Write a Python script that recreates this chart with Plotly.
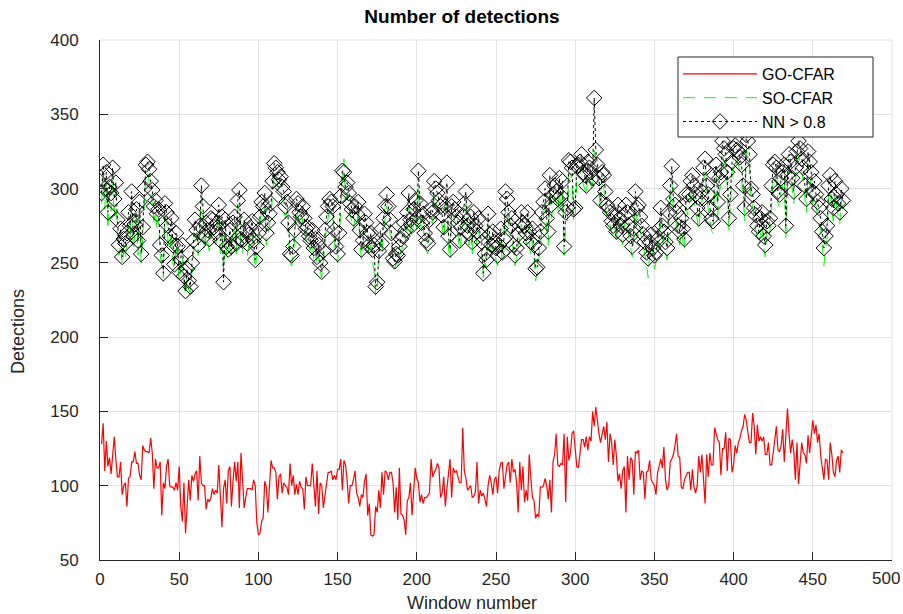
import plotly.graph_objects as go

# ---------------- data ----------------
go_cfar = [128,142,110,130,113,119,108,124,133,118,106,106,116,94,100,102,86,105,106,116,116,123,115,115,107,104,127,124,123,123,122,132,122,98,118,112,112,116,80,102,98,113,118,100,99,99,97,102,97,113,86,76,102,68,90,104,90,107,103,108,110,90,120,102,100,100,84,91,89,92,98,94,97,95,114,90,72,98,104,88,110,113,86,104,116,103,116,85,122,104,85,92,98,98,98,97,104,100,75,67,68,76,78,103,99,82,99,117,112,112,109,91,106,108,95,102,100,99,94,115,100,107,94,101,94,103,99,98,84,106,100,100,100,115,100,86,110,81,102,100,85,94,99,109,109,110,104,107,104,111,111,118,97,117,114,104,88,100,
           100,104,110,95,92,86,94,92,103,108,80,88,67,66,67,86,82,97,85,109,94,110,109,104,109,109,102,82,99,77,112,81,80,77,67,90,92,102,80,100,112,105,102,89,94,88,92,92,94,95,118,106,109,111,115,112,92,95,106,86,98,109,118,92,112,109,110,106,102,102,139,110,105,97,99,100,92,93,96,116,88,97,93,95,91,86,100,107,102,94,104,106,95,110,115,116,98,108,114,116,102,118,109,111,102,82,116,97,113,89,97,90,121,105,92,90,78,81,79,99,99,100,105,100,91,104,82,116,121,135,114,113,115,114,135,89,133,117,122,135,137,125,113,112,122,131,131,126,133,124,133,130,150,140,153,143,135,129,136,140,131,143,116,135,
           129,114,131,120,103,108,98,110,113,82,120,104,119,117,94,123,122,124,104,110,109,91,109,110,117,104,102,100,94,109,113,118,112,126,104,97,100,116,118,121,127,135,120,119,99,98,104,107,109,109,97,111,99,95,100,120,109,121,107,88,121,106,122,114,114,139,135,131,129,107,125,125,136,110,132,131,109,114,127,122,129,132,137,140,148,144,136,129,129,149,140,121,141,130,133,130,133,121,121,129,114,114,122,130,140,124,123,127,138,116,133,152,135,122,131,123,104,129,101,118,129,122,121,115,134,122,133,144,135,141,129,135,120,113,104,118,117,104,129,121,109,106,117,120,109,124,122]

so_cfar = [290,310,286,305,272,296,285,308,280,298,
           268,255,262,248,258,252,265,275,268,290,
           258,270,280,255,283,250,266,292,310,312,
           305,298,290,278,285,272,280,255,246,240,
           282,276,265,258,272,250,245,262,252,238,
           245,255,236,228,240,232,230,244,258,270,
           265,255,268,295,280,258,270,265,258,272,
           270,266,262,268,282,256,273,245,270,254,
           252,265,255,268,275,256,286,290,258,256,
           270,265,255,262,265,270,258,246,255,262,
           274,285,280,288,262,270,275,282,298,310,
           308,303,298,300,292,290,280,284,268,250,
           248,255,265,286,282,275,272,280,272,265,
           266,260,258,265,252,258,248,255,245,240,
           250,265,274,280,286,283,280,264,254,250,
           262,288,305,320,293,296,290,282,278,272,
           280,276,283,264,252,258,275,270,262,255,
           262,250,245,228,232,252,265,256,272,280,
           288,280,270,262,247,246,250,248,254,258,
           260,270,265,276,288,270,268,278,284,272,
           300,282,270,275,262,258,256,270,278,276,
           296,292,288,284,280,275,266,280,295,260,
           252,280,283,278,272,268,258,266,275,282,290,268,262,272,256,
           276,268,262,272,262,
           256,240,250,246,275,262,255,
           262,256,252,248,255,265,250,258,290,285,276,
           268,272,255,248,253,262,266,276,270,268,262,
           276,262,256,265,255,238,242,252,262,276,282,
           292,272,262,300,280,288,294,290,284,298,286,
           296,255,276,278,310,310,306,278,280,306,308,
           310,315,303,300,295,310,306,303,298,328,318,
           308,298,286,303,300,290,280,278,276,270,
           268,274,263,280,272,266,262,274,280,276,266,
           260,254,265,288,279,280,272,266,262,256,
           250,240,256,262,252,246,250,258,265,278,266,
           262,256,252,275,292,305,285,280,276,266,
           262,272,265,258,288,282,288,296,300,293,
           288,278,272,285,290,305,312,294,287,278,272,
           270,300,308,282,298,302,322,318,315,302,
           272,288,310,318,320,318,316,312,308,294,
           278,326,322,314,292,288,278,272,266,262,270,
           275,260,254,270,266,272,294,306,310,305,290,
           288,298,302,308,266,300,314,310,298,290,
           305,316,322,318,312,305,294,284,316,310,302,
           290,296,288,282,278,272,262,248,260,266,294,
           300,285,278,296,288,282,276,292,285]

nn = [297,316,300,311,284,301,297,314,293,304,
      279,262,273,254,266,263,270,284,275,298,
      268,276,286,265,291,256,274,300,316,318,
      313,305,299,288,292,283,286,262,255,243,
      290,284,275,268,280,262,249,270,261,244,
      252,262,241,231,246,238,234,250,265,279,
      272,262,275,302,288,268,277,272,266,280,
      279,274,270,277,289,265,281,237,279,261,
      259,272,261,277,281,263,292,299,266,265,
      279,272,263,269,274,278,265,252,261,270,
      281,291,288,297,270,277,283,290,305,317,
      314,311,306,308,301,298,288,291,277,256,
      255,261,272,293,290,284,281,288,280,273,
      274,268,265,272,260,266,254,262,250,244,
      258,272,281,288,293,291,288,272,261,256,
      270,295,312,311,301,304,297,290,286,280,
      288,283,291,272,259,265,283,277,270,262,
      270,259,262,234,237,258,272,263,280,288,
      296,288,279,270,253,251,256,255,261,266,
      268,277,272,284,297,279,275,286,292,280,
      312,290,277,283,270,265,263,279,286,284,
      305,300,297,292,288,282,274,288,304,268,
      259,288,291,286,281,277,265,274,282,290,298,275,270,281,264,
      284,275,271,280,269,
      264,243,256,252,283,269,262,
      271,264,260,255,262,273,257,266,298,293,284,
      275,280,262,255,260,269,275,284,277,275,270,
      284,271,264,273,262,246,247,260,271,284,291,
      300,280,271,309,289,296,302,298,293,307,295,
      305,261,284,287,319,318,314,286,287,315,316,
      318,323,311,309,302,318,314,311,307,361,326,
      316,307,292,311,309,298,289,287,284,278,
      275,282,271,289,280,275,269,282,289,284,275,
      268,261,273,298,287,289,281,275,269,264,
      257,253,264,269,260,255,257,266,273,287,275,
      271,264,260,284,302,315,293,289,284,275,
      271,280,273,266,296,291,296,305,309,302,
      296,287,280,293,298,314,320,302,296,287,280,
      278,309,316,291,307,311,332,327,323,311,
      280,296,318,327,329,326,325,321,316,302,
      287,336,332,323,300,296,287,282,275,271,280,
      284,268,262,278,275,280,302,316,318,314,298,
      296,307,311,316,275,309,323,318,307,298,
      314,325,332,327,320,314,302,293,325,318,311,
      298,305,296,291,287,280,271,260,268,275,302,
      309,293,287,305,296,290,284,300,292]

series_names = ["GO-CFAR", "SO-CFAR", "NN > 0.8"]
x_ticks = [0, 50, 100, 150, 200, 250, 300, 350, 400, 450, 500]
y_ticks = [50, 100, 150, 200, 250, 300, 350, 400]

x_go = list(range(1, len(go_cfar) + 1))
x_so = list(range(1, len(so_cfar) + 1))
x_nn = list(range(1, len(nn) + 1))

FONT = "Liberation Sans, Arial, Helvetica, sans-serif"
AX = "#262626"
GRID = "#e3e3e3"

# last x tick label drawn as an annotation so it can sit slightly inside the page edge
x_ticktext = [str(v) for v in x_ticks[:-1]] + [""]

fig = go.Figure()
fig.add_trace(go.Scatter(x=x_go, y=go_cfar, name=series_names[0], mode="lines",
                         line=dict(color="#ff0000", width=1.2)))
fig.add_trace(go.Scatter(x=x_so, y=so_cfar, name=series_names[1], mode="lines",
                         line=dict(color="#00ff00", width=1, dash="12px,9px")))
fig.add_trace(go.Scatter(x=x_nn, y=nn, name=series_names[2], mode="lines+markers",
                         line=dict(color="#000000", width=1, dash="dot"),
                         marker=dict(symbol="diamond-open", size=12, color="#000000",
                                     line=dict(width=1, color="#000000"))))

fig.update_layout(
    width=903, height=614,
    margin=dict(l=100, r=11, t=40, b=54, autoexpand=False),
    paper_bgcolor="white", plot_bgcolor="white",
    font=dict(family=FONT, size=16, color=AX),
    title=dict(text="<b>Number of detections</b>", x=(462 - 100) / 792, xref="paper",
               xanchor="center",
               y=1 - 16 / 614, yref="container", yanchor="middle",
               font=dict(family=FONT, size=19, color="#000000")),
    showlegend=True,
    legend=dict(x=(678 - 100) / 792, y=(560 - 57) / 520, xanchor="left", yanchor="top",
                bgcolor="rgba(0,0,0,0)", borderwidth=0,
                font=dict(family=FONT, size=16, color="#000000"),
                itemwidth=74, tracegroupgap=0),
    shapes=[
        dict(type="line", xref="paper", yref="paper", x0=1, x1=1, y0=0, y1=1,
             line=dict(color=GRID, width=1), layer="below"),
        dict(type="line", xref="paper", yref="paper", x0=0, x1=1, y0=1, y1=1,
             line=dict(color=GRID, width=1), layer="below"),
        dict(type="rect", xref="paper", yref="paper",
             x0=(678 - 100) / 792, x1=(873 - 100) / 792,
             y0=(560 - 137) / 520, y1=(560 - 57) / 520,
             fillcolor="white", line=dict(color=AX, width=1), layer="above"),
    ],
)
fig.update_xaxes(range=[0, 500], tickvals=x_ticks, ticktext=x_ticktext,
                 ticks="inside", ticklen=8, tickcolor=AX,
                 showline=True, linecolor=AX, linewidth=1, mirror=False,
                 showgrid=True, gridcolor=GRID, gridwidth=1, zeroline=False,
                 tickfont=dict(size=17, color=AX), ticklabelstandoff=4,
                 automargin=False)
fig.update_yaxes(range=[50, 400], tickvals=y_ticks, ticks="inside", ticklen=8, tickcolor=AX,
                 showline=True, linecolor=AX, linewidth=1, mirror=False,
                 showgrid=True, gridcolor=GRID, gridwidth=1, zeroline=False,
                 tickfont=dict(size=17, color=AX), ticklabelstandoff=17,
                 ticklabeloverflow="allow", automargin=False)

fig.add_annotation(text=str(x_ticks[-1]), xref="x", yref="paper",
                   x=x_ticks[-1], xshift=-6, y=-(578 - 560) / 520,
                   xanchor="center", yanchor="middle", showarrow=False,
                   font=dict(family=FONT, size=17, color=AX))
fig.add_annotation(text="Window number", xref="paper", yref="paper",
                   x=(472 - 100) / 792, y=-(603 - 560) / 520, xanchor="center", yanchor="middle",
                   showarrow=False, font=dict(family=FONT, size=18, color=AX))
fig.add_annotation(text="Detections", xref="paper", yref="paper",
                   x=-(100 - 18) / 792, y=(560 - 332) / 520, xanchor="center", yanchor="middle",
                   textangle=-90, showarrow=False, font=dict(family=FONT, size=18, color=AX))

fig.write_html("out.html")
